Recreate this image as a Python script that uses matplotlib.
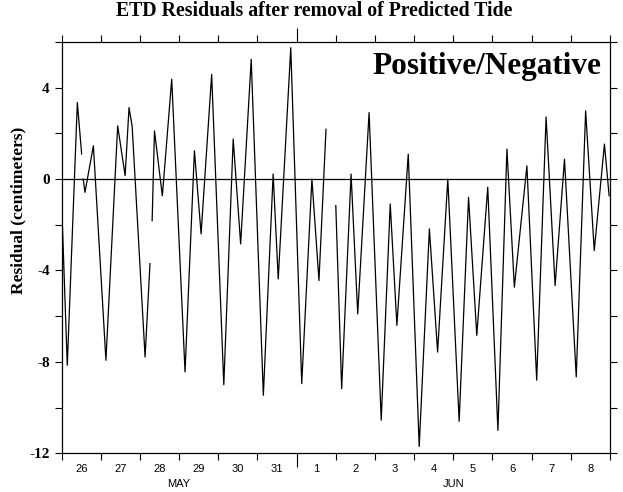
import matplotlib

matplotlib.use("Agg")
import matplotlib.pyplot as plt  # noqa: E402
import matplotlib.dates as mdates  # noqa: E402
from matplotlib.transforms import blended_transform_factory  # noqa: E402
import numpy as np  # noqa: E402
import pandas as pd  # noqa: E402

# time in days since 26 May 00:00, residual in cm (NaN = gap in record)
t_days = [0.0, 0.143, 0.40, 0.51, np.nan, 0.55, 0.595, 0.81, 1.13, 1.43,
          1.62, 1.72, 1.80, 2.13, 2.255, np.nan, 2.31, 2.37, 2.57, 2.64,
          2.81, 3.15, 3.39, 3.56, 3.83, 4.14, 4.38, 4.57, 4.84, 5.15,
          5.40, 5.53, 5.85, 6.13, 6.39, 6.57, 6.75, np.nan, 7.0, 7.15,
          7.39, 7.56, 7.85, 8.16, 8.39, 8.56, 8.85, 9.13, 9.39, 9.60,
          9.86, 10.15, 10.39, 10.60, 10.88, 11.14, 11.37, 11.56, 11.88, 12.13,
          12.37, 12.60, 12.84, 13.14, 13.38, 13.60, 13.86, 13.98]
resid = [-1.1, -8.15, 3.35, 1.1, np.nan, 0.0, -0.58, 1.46, -7.93, 2.33,
         0.15, 3.13, 2.3, -7.79, -3.7, np.nan, -1.82, 2.11, -0.73, 0.73,
         4.37, -8.44, 1.24, -2.4, 4.58, -9.0, 1.75, -2.84, 5.24, -9.46,
         0.22, -4.37, 5.75, -8.95, 0.0, -4.44, 2.18, np.nan, -1.16, -9.17,
         0.22, -5.9, 2.91, -10.55, -1.09, -6.4, 1.09, -11.7, -2.18, -7.57,
         0.0, -10.6, -0.8, -6.84, -0.36, -11.0, 1.31, -4.73, 0.58, -8.8,
         2.72, -4.66, 0.87, -8.66, 2.98, -3.13, 1.53, -0.73]

start = pd.Timestamp("2000-05-26")
end = pd.Timestamp("2000-06-09")
months = [("MAY", pd.Timestamp("2000-05-26"), pd.Timestamp("2000-06-01")),
          ("JUN", pd.Timestamp("2000-06-01"), pd.Timestamp("2000-06-09"))]

tt = np.array(t_days, dtype=float)
x = np.array([mdates.date2num(start + pd.Timedelta(days=d)) if not np.isnan(d)
              else np.nan for d in tt])
y = np.array(resid, dtype=float)

serif = "Liberation Serif"
sans = "Liberation Sans"

fig = plt.figure(figsize=(6.23, 4.92), dpi=100)
ax = fig.add_axes([0.099, 0.0787, 0.88, 0.836])

ax.plot(x, y, color="black", lw=0.9)
ax.axhline(0, color="black", lw=0.9)

ax.set_xlim(mdates.date2num(start), mdates.date2num(end))
ax.set_ylim(-12, 6)

# y axis: ticks every 2, labels every 4
yt = np.arange(-12, 7, 2)
ax.set_yticks(yt)
ax.set_yticklabels([f"{v:d}" if v % 4 == 0 and v < 6 else "" for v in yt],
                   fontfamily=serif, fontweight="bold", fontsize=11)
ax.tick_params(axis="y", which="both", direction="out", length=5,
               right=True, left=True, width=0.8)

# x axis: day boundaries as ticks, labels at noon
ax.xaxis.set_major_locator(mdates.DayLocator())
ax.xaxis.set_major_formatter(plt.NullFormatter())
ax.xaxis.set_minor_locator(mdates.HourLocator(byhour=[12]))
ax.xaxis.set_minor_formatter(mdates.DateFormatter("%-d"))
ax.tick_params(axis="x", which="major", direction="out", length=5,
               top=True, bottom=True, width=0.8)
ax.tick_params(axis="x", which="minor", length=0, pad=8, labelsize=8)
for lab in ax.xaxis.get_minorticklabels():
    lab.set_fontfamily(sans)

# longer tick at month boundary
for tk in ax.xaxis.get_major_ticks():
    if abs(tk.get_loc() - mdates.date2num(pd.Timestamp("2000-06-01"))) < 1e-6:
        tk.tick1line.set_markersize(10)
        tk.tick2line.set_markersize(10)

trans = blended_transform_factory(ax.transData, ax.transAxes)
for name, m0, m1 in months:
    mid = (mdates.date2num(m0) + mdates.date2num(m1)) / 2
    ax.text(mid, -0.074, name, transform=trans, ha="center", va="center",
            fontsize=8, family=sans)

for sp in ax.spines.values():
    sp.set_linewidth(0.9)

ax.set_ylabel("Residual (centimeters)", fontfamily=serif, fontweight="bold",
              fontsize=12.5, labelpad=4)
ax.yaxis.set_label_coords(-0.064, 0.59)
fig.suptitle("ETD Residuals after removal of Predicted Tide", x=0.505, y=0.998,
             fontfamily=serif, fontweight="bold", fontsize=14.2)
ax.text(0.985, 0.975, "Positive/Negative", transform=ax.transAxes, ha="right",
        va="top", fontfamily=serif, fontweight="bold", fontsize=22.5)

fig.savefig("out.png", dpi=100)
